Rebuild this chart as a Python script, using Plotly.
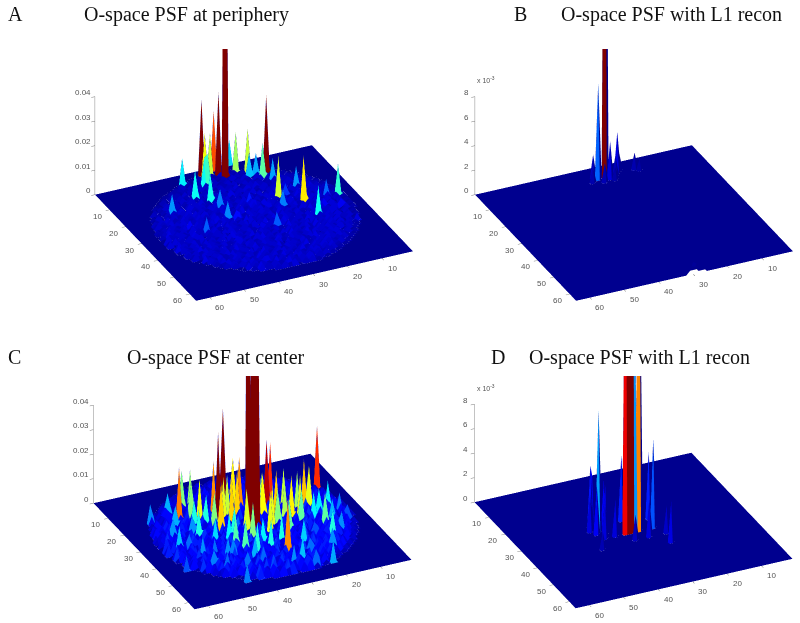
import numpy as np
import plotly.graph_objects as go

W, H = 800, 623
N = 64

# spikes: grid column, grid row, height
a_x = [29, 34, 30, 30, 18, 41, 22, 25, 25, 32, 34, 20, 23, 21, 18, 21, 16, 15, 6, 14, 38, 41, 38, 36, 35, 50, 37, 22, 28, 46, 29, 36, 19, 9, 7, 57, 41, 39, 49, 12, 8]
a_y = [7, 3, 2, 5, 9, 6, 6, 5, 1, 4, 5, 11, 9, 23, 13, 9, 28, 35, 28, 19, 28, 14, 17, 9, 9, 19, 21, 28, 37, 32, 22, 29, 23, 27, 42, 38, 41, 53, 28, 32, 34]
a_h = [0.2, 0.0306, 0.024, 0.0337, 0.0313, 0.0109, 0.017, 0.0159, 0.01, 0.017, 0.0184, 0.0139, 0.0095, 0.0174, 0.0086, 0.0088, 0.0193, 0.0116, 0.0127, 0.0082, 0.0078, 0.0116, 0.0118, 0.0116, 0.0129, 0.0082, 0.0075, 0.0075, 0.0064, 0.0065, 0.0044, 0.004, 0.0054, 0.0068, 0.0027, 0.0027, 0.0027, 0.0027, 0.0034, 0.0034, 0.0034]

b_x = [29, 31, 28, 25, 26, 24, 20, 19, 32, 33, 30, 27, 30, 29, 28, 27, 31, 30, 29]
b_y = [7, 7, 8, 6, 7, 5, 6, 7, 6, 8, 9, 9, 64, 64, 64, 64, 64, 63, 63]
b_h = [0.05, 0.0078, 0.003, 0.0033, 0.0016, 0.0014, 0.0013, 0.0009, 0.0019, 0.0012, 0.0015, 0.001, 0.001, 0.0008, 0.0005, 0.0003, 0.0003, 0.0005, 0.0004]

c_x = [32, 33, 31, 32, 39, 7, 48, 38, 43, 40, 31, 31, 24, 22, 27, 23, 21, 29, 15, 14, 14, 15, 7, 7, 9, 13, 55, 49, 44, 42, 47, 44, 40, 39, 36, 34, 32, 27, 19, 20, 25, 50, 47, 43, 57, 53, 45, 37, 48, 53, 54, 25, 18, 22, 22, 35, 42, 44, 36,
       37, 33, 29, 26, 20, 17, 41, 36, 30, 24, 19, 27, 38, 34, 29, 24, 40, 46, 50, 33, 28, 23, 17, 29, 38, 44, 52, 50, 15, 11, 11, 24, 30, 36, 42, 47]
c_y = [32, 31, 32, 13, 25, 18, 20, 20, 22, 29, 21, 17, 23, 21, 27, 27, 32, 47, 27, 28, 38, 45, 32, 37, 29, 32, 17, 15, 13, 14, 30, 34, 38, 42, 43, 32, 43, 52, 42, 56, 56, 46, 48, 43, 44, 45, 56, 49, 28, 27, 33, 32, 31, 42, 30, 22, 24, 19, 31,
       24, 24, 24, 24, 25, 27, 27, 27, 28, 29, 34, 33, 33, 36, 36, 37, 34, 25, 22, 40, 41, 44, 49, 47, 46, 42, 35, 39, 33, 36, 42, 50, 53, 53, 50, 40]
c_h = [0.2, 0.2, 0.15, 0.0367, 0.0374, 0.025, 0.0227, 0.022, 0.018, 0.02, 0.022, 0.019, 0.0283, 0.025, 0.0186, 0.017, 0.019, 0.022, 0.0204, 0.018, 0.014, 0.0122, 0.0075, 0.0061, 0.0109, 0.0109, 0.0078, 0.009, 0.015, 0.0156, 0.012, 0.0102, 0.0136, 0.0136, 0.0122, 0.0177, 0.012, 0.0095, 0.0061, 0.0088, 0.0068, 0.0075, 0.0068, 0.0075, 0.0061, 0.0027, 0.0075, 0.0068, 0.0082, 0.0082, 0.0095, 0.015, 0.0177, 0.0082, 0.0163, 0.017, 0.0122, 0.015, 0.0068,
       0.018, 0.02, 0.019, 0.016, 0.017, 0.016, 0.015, 0.02, 0.017, 0.02, 0.014, 0.018, 0.012, 0.015, 0.018, 0.014, 0.011, 0.012, 0.009, 0.011, 0.012, 0.01, 0.008, 0.011, 0.009, 0.008, 0.007, 0.008, 0.011, 0.009, 0.008, 0.007, 0.008, 0.006, 0.007, 0.007]

d_x = [35, 34, 33, 32, 31, 41, 42, 41, 39, 38, 41, 42, 40, 43, 27, 26, 33, 29, 26, 25, 44, 38, 34, 30]
d_y = [33, 33, 33, 33, 33, 29, 26, 25, 28, 33, 33, 30, 31, 28, 33, 28, 26, 25, 42, 37, 38, 33, 37, 37]
d_h = [0.031, 0.05, 0.05, 0.0095, 0.026, 0.0099, 0.005, 0.004, 0.004, 0.003, 0.003, 0.004, 0.004, 0.003, 0.0072, 0.0054, 0.0053, 0.007, 0.0033, 0.0022, 0.0014, 0.0014, 0.002, 0.003]

# low bumps inside the sampled disc of the two O-space panels, one digit per grid cell
ripple_first_y = 5
ripple_start = [25, 22, 20, 18, 17, 15, 14, 13, 12, 11, 10, 10, 9, 8, 8, 7, 7, 7, 6, 6, 6, 6, 5, 5, 5, 5, 5, 5, 5, 5, 5, 6, 6, 6, 6, 7, 7, 7, 8, 8, 9, 10, 10, 11, 12, 13, 14, 15, 17, 18, 20, 22, 25]
ripple_rows = [
    "21302413201312",
    "31204123512031420132",
    "213042315023142053123041",
    "3102413052314205312403125130",
    "402315024136204153024315204132",
    "2130415203614025130426150324130412",
    "310425136024153062415302641530241302",
    "20314250631425036142530641253062415031",
    "3140526130425163024516304251630425130241",
    "204135261403516240735261403526140325130412",
    "31402516304152703415263051426304152630415203",
    "20513624150362415736241503624151362405136241",
    "3140526130451263045126384512630451263045126304",
    "205136240731625041736250413625041736250413624105",
    "314052613041726305142630517263041526370415263041",
    "20416325071436205174362051436207143625014736250413",
    "31527041362514073625140736251407362514073625140362",
    "40136250714362501743625071436250174362507143625014",
    "3152604173625148362514073625104736251407362514073625",
    "2041736250814362507143682507143625014736250714362514",
    "3162504173625071436285071436250174362507143625071436",
    "2051473625014736250714362508143625071436250173625041",
    "315260417362507143625817362507143625071436250714362514",
    "204173625081436250714362501743625071836250714362507143",
    "316250417362507143625014736250814362507143625071436250",
    "205147362501743625081436250714362507143625017436250814",
    "316204173625071436250174362508143625071436250714362501",
    "205147362508143625071436250174362507143628501743625071",
    "316250417362501743625081436250714362501736250814362507",
    "205147362507143625071436280174362507143625014736250714",
    "316204736250174362508143625071436250174362507143625017",
    "2051473625071436250174362581436250714362501743625071",
    "3162041736250814362507143625017436280714362501743625",
    "2051473625017436250814362507143625017436250714362508",
    "3162504173625071436250174362508143625071436250714362",
    "20514736250814362507143625017436258143625071436250",
    "31620417362501743625071436280714362501743625081436",
    "20514736250714362508143625017436250714362501743625",
    "316250417362508143625071436250174362507143625014",
    "205147362501743625071438250714362508143625017436",
    "3162041736250714362501743625081436250714362501",
    "20514736250814362507143625017436250714362508",
    "31625041736250174362508143625071436250174362",
    "204173625071436250174362508143625071436250",
    "3162504736250814362507143625017436250714",
    "20514362507143625017436250814362501743",
    "316250473625081436250714362501743625",
    "2041736250714362508143625017436250",
    "316250473625071436250814362501",
    "2051436250174362508143625071",
    "316250473625071436250814",
    "20514736250814362507",
    "31625017436250",
]
ripple_unit_a = 3.5e-4
ripple_unit_c = 6.5e-4

tick_vals = [10, 20, 30, 40, 50, 60]
z_ticks_a = [0, 0.01, 0.02, 0.03, 0.04]
z_tick_text_a = ["0", "0.01", "0.02", "0.03", "0.04"]
z_ticks_b = [0, 0.002, 0.004, 0.006, 0.008]
z_tick_text_b = ["0", "2", "4", "6", "8"]

letters = ["A", "B", "C", "D"]
titles = ["O-space PSF at periphery", "O-space PSF with L1 recon", "O-space PSF at center", "O-space PSF with L1 recon"]

# MATLAB jet
jet = [[0, "rgb(0,0,143)"], [0.125, "rgb(0,0,255)"], [0.375, "rgb(0,255,255)"],
       [0.625, "rgb(255,255,0)"], [0.875, "rgb(255,0,0)"], [1, "rgb(128,0,0)"]]

# view measured from the floor of the panels
THETA = np.radians(25)
ELEV = np.radians(29.3)
FLOOR_PX = 239.4
tick_font = dict(size=8, family="Liberation Sans", color="#555")


def build_z(xs, ys, hs, ripple_unit=None):
    z = np.zeros((N, N))
    if ripple_unit:
        for r, (start, row) in enumerate(zip(ripple_start, ripple_rows)):
            for k, ch in enumerate(row):
                if start + k <= N:
                    z[start + k - 1, ripple_first_y + r - 1] = int(ch) * ripple_unit
    for x, y, h in zip(xs, ys, hs):
        z[int(x) - 1, int(y) - 1] = max(z[int(x) - 1, int(y) - 1], h)
    return z


def surface_trace(z, scene, cmax, wide_colour):
    # flat facets coloured from a corner, like MATLAB surf
    gx, gy = np.meshgrid(np.arange(1, N + 1), np.arange(1, N + 1), indexing="ij")
    idx = np.arange(N * N).reshape(N, N)
    a = idx[:-1, :-1].ravel()
    b = idx[1:, :-1].ravel()
    c = idx[1:, 1:].ravel()
    d = idx[:-1, 1:].ravel()
    cell = z[:-1, :-1].ravel()
    if wide_colour:
        cell = np.maximum(z[:-1, :-1], z[1:, :-1]).ravel()
    return go.Mesh3d(
        x=gx.ravel(), y=gy.ravel(), z=z.ravel(),
        i=np.concatenate([a, a]), j=np.concatenate([b, c]), k=np.concatenate([c, d]),
        intensity=np.concatenate([cell, cell]), intensitymode="cell",
        colorscale=jet, cmin=0, cmax=cmax, showscale=False, flatshading=True,
        lighting=dict(ambient=1, diffuse=0, specular=0, roughness=1, fresnel=0,
                      facenormalsepsilon=0, vertexnormalsepsilon=0),
        hoverinfo="skip", scene=scene,
    )


def tick_notes(zticks, ztext, z_shift):
    notes = []
    for v in tick_vals:
        notes.append(dict(x=N, y=v, z=0, text=str(v), showarrow=False, xshift=-12, yshift=-6.5, font=tick_font))
        notes.append(dict(x=v, y=N, z=0, text=str(v), showarrow=False, xshift=10, yshift=-10, font=tick_font))
    for v, t in zip(zticks, ztext):
        notes.append(dict(x=N, y=1, z=v, text=t, showarrow=False, xanchor="right", xshift=z_shift, yshift=4, font=tick_font))
    return notes


def scene_layout(box, floor_c, px_per_z, zmax, zticks, ztext, z_shift):
    left, top, right, bottom = box
    a, b = np.sin(THETA), np.cos(THETA)
    s, c = np.sin(ELEV), np.cos(ELEV)
    view = np.array([a * c, b * c, s])
    r = np.array([-b, a, 0])
    u = np.array([-a * s, -b * s, c])
    # orthographic scale follows the scene height only, size comes from the aspect ratio
    unit_px = 0.5 * (bottom - top)
    tx = floor_c[0]
    ty = floor_c[1] - zmax / 2 * px_per_z * c
    dcx, dcy = (left + right) / 2, (top + bottom) / 2
    center = (dcx - tx) / unit_px * r + (ty - dcy) / unit_px * u
    eye = center + 6 * view
    ax = dict(range=[1, N], tickmode="array", tickvals=tick_vals, showgrid=False, zeroline=False,
              showbackground=False, showline=False, showspikes=False, ticks="outside", ticklen=4,
              showticklabels=False, tickcolor="#777", title=dict(text=""))
    zax = dict(ax, range=[0, zmax], tickvals=zticks)
    return dict(
        domain=dict(x=[left / W, right / W], y=[1 - bottom / H, 1 - top / H]),
        xaxis=ax, yaxis=ax, zaxis=zax,
        aspectmode="manual",
        aspectratio=dict(x=FLOOR_PX / unit_px, y=FLOOR_PX / unit_px, z=zmax * px_per_z / unit_px),
        camera=dict(
            projection=dict(type="orthographic"),
            up=dict(x=0, y=0, z=1),
            center=dict(x=center[0], y=center[1], z=center[2]),
            eye=dict(x=eye[0], y=eye[1], z=eye[2]),
        ),
        annotations=tick_notes(zticks, ztext, z_shift),
    )


def z_line(top, scene):
    return go.Scatter3d(x=[N, N], y=[1, 1], z=[0, top], mode="lines", line=dict(color="#888", width=1),
                        hoverinfo="skip", showlegend=False, scene=scene)


z_a = build_z(a_x, a_y, a_h, ripple_unit_a)
z_b = build_z(b_x, b_y, b_h)
z_c = build_z(c_x, c_y, c_h, ripple_unit_c)
z_d = build_z(d_x, d_y, d_h)

fig = go.Figure()
panels = [(z_a, "scene", 0.04, 0.03, True), (z_b, "scene2", 0.008, 0.035, False),
          (z_c, "scene3", 0.04, 0.03, True), (z_d, "scene4", 0.008, 0.035, False)]
for z, name, top, cmax, wide in panels:
    fig.add_trace(surface_trace(z, name, cmax, wide))
    fig.add_trace(z_line(top, name))

fig.update_layout(
    width=W, height=H, margin=dict(l=0, r=0, t=0, b=0), paper_bgcolor="white", showlegend=False,
    scene=scene_layout((60, 49, 448, 320), (254, 223), 2810, 0.2, z_ticks_a, z_tick_text_a, -2),
    scene2=scene_layout((452, 49, 800, 320), (634, 223), 14050, 0.05, z_ticks_b, z_tick_text_b, -4),
    scene3=scene_layout((60, 376, 448, 623), (252.5, 531.5), 2810, 0.2, z_ticks_a, z_tick_text_a, -2),
    scene4=scene_layout((452, 376, 800, 623), (633.5, 530.5), 14050, 0.05, z_ticks_b, z_tick_text_b, -4),
)

serif = dict(family="Liberation Serif", size=20, color="#111")
label_pos = [(6, 14), (512, 14), (6, 357), (489, 357)]
title_pos = [(186, 14), (671, 14), (216, 357), (639, 357)]
for (lx, ly), (tx, ty), letter, title in zip(label_pos, title_pos, letters, titles):
    fig.add_annotation(x=lx / W, y=1 - ly / H, xref="paper", yref="paper", text=letter, showarrow=False,
                       xanchor="left", yanchor="middle", font=serif)
    fig.add_annotation(x=tx / W, y=1 - ty / H, xref="paper", yref="paper", text=title, showarrow=False,
                       xanchor="center", yanchor="middle", font=serif)
for ex_y in (80, 388):
    fig.add_annotation(x=475 / W, y=1 - ex_y / H, xref="paper", yref="paper", text="x 10<sup>-3</sup>", showarrow=False,
                       xanchor="left", yanchor="middle", font=dict(family="Liberation Sans", size=7, color="#555"))

fig.write_html("out.html", post_script="document.body.style.margin='0';", config={"displayModeBar": False})
